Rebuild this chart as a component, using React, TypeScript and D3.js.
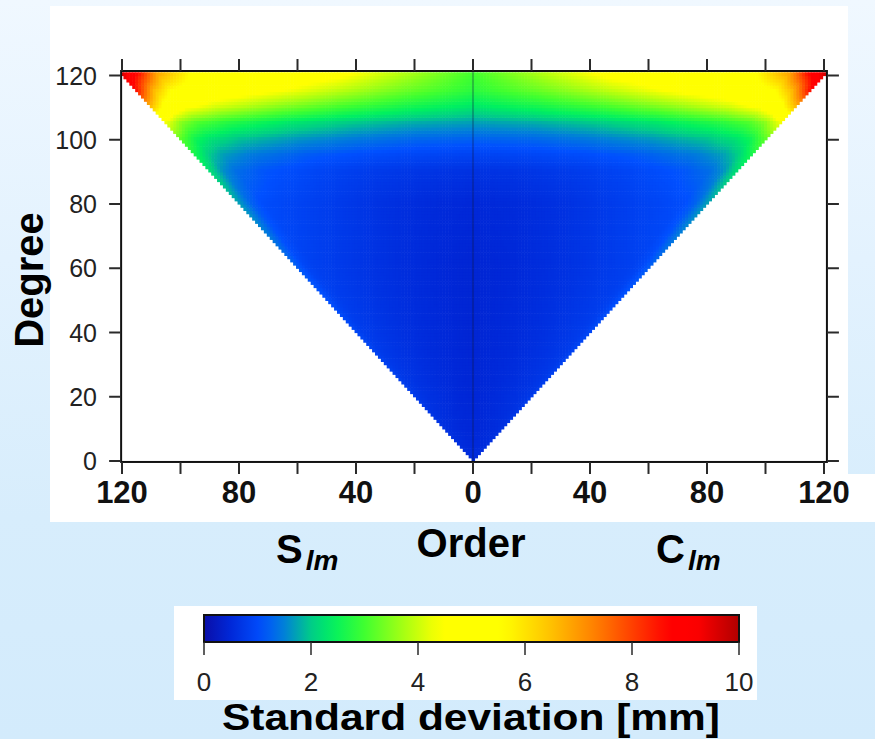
import React, { useEffect, useRef } from "react";
import * as d3 from "d3";

// ---------------- data ----------------
// Degree rows and |order|/degree fractions of a coarse read-off grid
const degreeRows = [0, 10, 20, 40, 60, 80, 90, 95, 100, 105, 110, 115, 120];
const orderFractions = [0, 0.2, 0.4, 0.6, 0.8, 0.9, 0.95, 1.0];
// standard deviation [mm] (S and C halves look symmetric)
const stdDevGrid = [
  [0.55, 0.55, 0.55, 0.55, 0.55, 0.55, 0.55, 0.55],
  [0.5, 0.5, 0.52, 0.55, 0.58, 0.6, 0.6, 0.65],
  [0.48, 0.5, 0.55, 0.6, 0.65, 0.7, 0.72, 0.8],
  [0.45, 0.5, 0.55, 0.62, 0.72, 0.78, 0.82, 0.95],
  [0.45, 0.5, 0.58, 0.68, 0.8, 0.86, 0.95, 1.2],
  [0.5, 0.55, 0.65, 0.8, 0.95, 1.05, 1.25, 1.7],
  [0.65, 0.7, 0.8, 0.95, 1.15, 1.35, 1.6, 2.2],
  [0.9, 0.95, 1.05, 1.2, 1.45, 1.7, 2.0, 2.6],
  [1.25, 1.3, 1.45, 1.65, 1.95, 2.25, 2.55, 3.2],
  [1.7, 1.8, 2.0, 2.3, 2.75, 3.1, 3.5, 4.3],
  [2.3, 2.6, 3.0, 3.5, 4.1, 4.6, 5.2, 6.5],
  [2.8, 3.3, 3.9, 4.5, 5.0, 5.6, 6.6, 8.5],
  [3.0, 3.8, 4.6, 5.0, 5.5, 6.8, 8.4, 9.6],
];

const maxDegree = 120;
const orderTicks = [-120, -100, -80, -60, -40, -20, 0, 20, 40, 60, 80, 100, 120];
const orderLabels = [-120, -80, -40, 0, 40, 80, 120];
const degreeTicks = [0, 20, 40, 60, 80, 100, 120];
const colorbarTicks = [0, 2, 4, 6, 8, 10];

// colour palette (value -> colour) as shown on the colour bar
const cmapStops = [0, 0.5, 1.1, 1.5, 2.0, 2.4, 3.0, 3.8, 4.4, 5.6, 6.5, 7.3, 8.0, 8.7, 9.2, 10];
const cmapColors = [
  "#0a0ea8", "#0028d8", "#0050ff", "#0080d8", "#00cc88", "#00f060", "#40ff30",
  "#b0ff10", "#ffff00", "#ffff00", "#ffc000", "#ff8000", "#ff4000", "#ff0000",
  "#ff0000", "#b00000",
];

// ---------------- helpers ----------------
function bracket(arr: number[], v: number) {
  let i = 0;
  while (i < arr.length - 2 && v > arr[i + 1]) i++;
  const t = Math.max(0, Math.min(1, (v - arr[i]) / (arr[i + 1] - arr[i])));
  return { i, t };
}

function valueAt(l: number, m: number) {
  const f = l === 0 ? 0 : Math.abs(m) / l;
  const r = bracket(degreeRows, l);
  const c = bracket(orderFractions, f);
  const g = stdDevGrid;
  const a = g[r.i][c.i] * (1 - c.t) + g[r.i][c.i + 1] * c.t;
  const b = g[r.i + 1][c.i] * (1 - c.t) + g[r.i + 1][c.i + 1] * c.t;
  return a * (1 - r.t) + b * r.t;
}

export default function App() {
  const cellRef = useRef<SVGGElement>(null);

  const x = d3.scaleLinear().domain([-120, 120]).range([122, 824]);
  const y = d3.scaleLinear().domain([0, 120]).range([461, 75.5]);
  const color = d3
    .scaleLinear<string>()
    .domain(cmapStops)
    .range(cmapColors)
    .interpolate(d3.interpolateRgb)
    .clamp(true);
  const cb = d3.scaleLinear().domain([0, 10]).range([204, 739]);

  const frameL = x(-120.3);
  const frameR = x(121);
  const frameT = y(121.4);
  const frameB = y(-0.3);

  useEffect(() => {
    if (!cellRef.current) return;
    const cells: { l: number; m: number; v: number }[] = [];
    for (let l = 0; l <= maxDegree; l++) {
      for (let m = -l; m <= l; m++) cells.push({ l, m, v: valueAt(l, m) });
    }
    const cw = x(1) - x(0);
    const ch = y(0) - y(1);
    const g = d3.select(cellRef.current);
    g.selectAll("*").remove();
    g.selectAll("rect")
      .data(cells)
      .join("rect")
      .attr("x", (d) => x(d.m) - cw / 2)
      .attr("y", (d) => y(d.l + 1))
      .attr("width", cw + 0.6)
      .attr("height", ch + 0.6)
      .attr("fill", (d) => color(d.v));
  }, []);

  const cbStops = d3.range(0, 10.01, 0.25);
  const tickColor = "#2a2a2a";

  return (
    <svg
      width={875}
      height={739}
      style={{ position: "absolute", left: 0, top: 0 }}
      fontFamily="'Liberation Sans', Arial, Helvetica, sans-serif"
    >
      <defs>
        <linearGradient id="bg" x1="0" y1="0" x2="0" y2="1">
          <stop offset="0" stopColor="#f0f8ff" />
          <stop offset="0.35" stopColor="#e3f2fe" />
          <stop offset="0.7" stopColor="#d7edfc" />
          <stop offset="1" stopColor="#d3ebfc" />
        </linearGradient>
        <linearGradient id="cbar" x1="0" y1="0" x2="1" y2="0">
          {cbStops.map((v) => (
            <stop key={v} offset={v / 10} stopColor={color(v)} />
          ))}
        </linearGradient>
        <clipPath id="plotclip">
          <rect x={frameL} y={frameT} width={frameR - frameL} height={frameB - frameT} />
        </clipPath>
      </defs>

      <rect x={0} y={0} width={875} height={739} fill="url(#bg)" />
      {/* white panels */}
      <rect x={50} y={6} width={798} height={516} fill="#ffffff" />
      <rect x={848} y={474} width={27} height={48} fill="#ffffff" />
      <rect x={174} y={606} width={583} height={94} fill="#ffffff" />

      {/* heat map */}
      <g clipPath="url(#plotclip)">
        <g ref={cellRef} />
        <line
          x1={x(0)}
          x2={x(0)}
          y1={frameT}
          y2={frameB}
          stroke="#101840"
          strokeOpacity={0.55}
          strokeWidth={1}
        />
      </g>

      {/* frame */}
      <rect
        x={frameL}
        y={frameT}
        width={frameR - frameL}
        height={frameB - frameT}
        fill="none"
        stroke="#111"
        strokeWidth={2}
      />

      {/* x ticks top & bottom */}
      {orderTicks.map((t) => (
        <g key={"xt" + t}>
          <line x1={x(t)} x2={x(t)} y1={frameT} y2={frameT - 12} stroke={tickColor} strokeWidth={2} />
          <line x1={x(t)} x2={x(t)} y1={frameB} y2={frameB + 12} stroke={tickColor} strokeWidth={2} />
        </g>
      ))}
      {orderLabels.map((t) => (
        <text
          key={"xl" + t}
          x={x(t)}
          y={503}
          textAnchor="middle"
          fontSize={31}
          fontWeight="bold"
          fill="#111"
        >
          {Math.abs(t)}
        </text>
      ))}

      {/* y ticks left & right */}
      {degreeTicks.map((t) => (
        <g key={"yt" + t}>
          <line x1={frameL} x2={frameL - 12} y1={y(t)} y2={y(t)} stroke={tickColor} strokeWidth={2} />
          <line x1={frameR} x2={frameR + 12} y1={y(t)} y2={y(t)} stroke={tickColor} strokeWidth={2} />
          <text x={97} y={y(t) + 9} textAnchor="end" fontSize={25} fill="#222">
            {t}
          </text>
        </g>
      ))}

      {/* axis titles */}
      <text
        transform={`translate(43, 280) rotate(-90)`}
        textAnchor="middle"
        fontSize={40}
        fontWeight="bold"
        fill="#000"
      >
        Degree
      </text>
      <text x={471} y={557} textAnchor="middle" fontSize={40} fontWeight="bold" fill="#000">
        Order
      </text>
      <text x={276} y={563} fontSize={40} fontWeight="bold" fill="#000">
        S
        <tspan fontSize={28} fontStyle="italic" dy={7} dx={3}>
          lm
        </tspan>
      </text>
      <text x={656} y={563} fontSize={40} fontWeight="bold" fill="#000">
        C
        <tspan fontSize={28} fontStyle="italic" dy={7} dx={3}>
          lm
        </tspan>
      </text>

      {/* colour bar */}
      <rect x={cb(0)} y={615} width={cb(10) - cb(0)} height={27} fill="url(#cbar)" stroke="#111" strokeWidth={2} />
      {colorbarTicks.map((t) => (
        <g key={"cb" + t}>
          <line x1={cb(t)} x2={cb(t)} y1={642} y2={655} stroke={tickColor} strokeWidth={1.5} />
          <text x={cb(t)} y={691} textAnchor="middle" fontSize={26} fill="#222">
            {t}
          </text>
        </g>
      ))}
      <text
        x={471}
        y={730}
        textAnchor="middle"
        fontSize={36}
        fontWeight="bold"
        fill="#000"
        textLength={498}
        lengthAdjust="spacingAndGlyphs"
      >
        Standard deviation [mm]
      </text>
    </svg>
  );
}
